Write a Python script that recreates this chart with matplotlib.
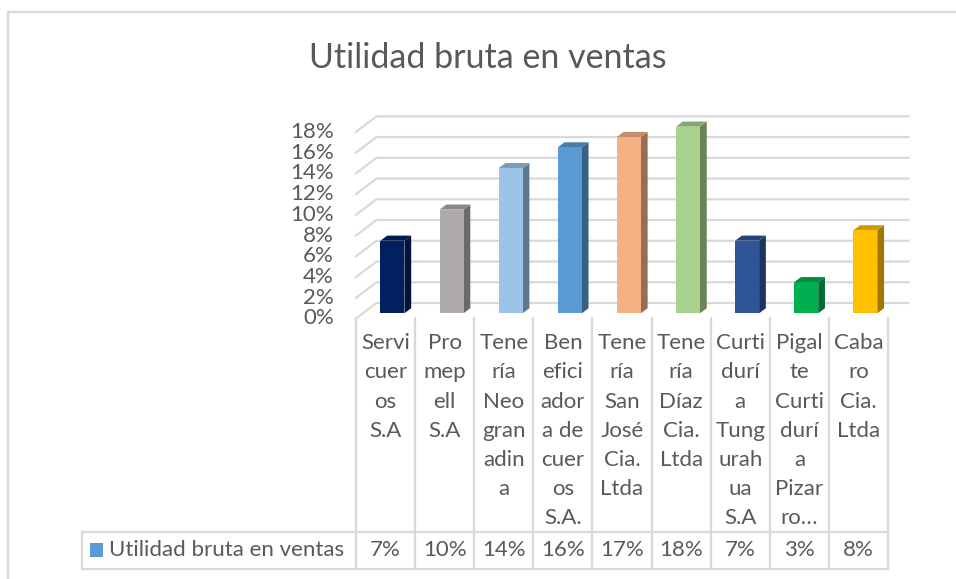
import numpy as np
import matplotlib.pyplot as plt
from matplotlib.patches import Polygon, Rectangle
from matplotlib.colors import to_rgb

plt.rcParams['font.family'] = ['Lato', 'DejaVu Sans']

# Data
title = "Utilidad bruta en ventas"
series_name = "Utilidad bruta en ventas"
labels = [
    "Servi\ncuer\nos\nS.A",
    "Pro\nmep\nell\nS.A",
    "Tene\nría\nNeo\ngran\nadin\na",
    "Ben\nefici\nador\na de\ncuer\nos\nS.A.",
    "Tene\nría\nSan\nJosé\nCia.\nLtda",
    "Tene\nría\nDíaz\nCia.\nLtda",
    "Curti\ndurí\na\nTung\nurah\nua\nS.A",
    "Pigal\nte\nCurti\ndurí\na\nPizar\nro…",
    "Caba\nro\nCia.\nLtda",
]
values = [7, 10, 14, 16, 17, 18, 7, 3, 8]
colors = ['#002060', '#AEAAAA', '#9DC3E6', '#5B9BD5', '#F4B183',
          '#A9D18E', '#2F5597', '#00B050', '#FFC000']
y_ticks = list(range(0, 20, 2))

TXT = '#595959'
GRID = '#D9D9D9'
FS = 16

W, H = 956, 579
fig = plt.figure(figsize=(W / 100, H / 100), dpi=100)

# pixel canvas for frame, title and data table
bg = fig.add_axes([0, 0, 1, 1])
bg.set_xlim(0, W)
bg.set_ylim(H, 0)
bg.axis('off')

# chart axes: categories on x, percent on y
X0, X1 = 356, 888
Y0 = 318.5
PX_PER_PCT = 10.37
YMAX = 20
n = len(values)
ax = fig.add_axes([X0 / W, (H - Y0) / H, (X1 - X0) / W, YMAX * PX_PER_PCT / H])
ax.set_xlim(-0.5, n - 0.5)
ax.set_ylim(0, YMAX)
ax.axis('off')

col_w = (X1 - X0) / n
DX = 20.5 / col_w          # depth of floor, category units
DY = 15.5 / PX_PER_PCT     # depth of floor, percent units

# walls / gridlines
for t in y_ticks:
    ax.plot([-0.5, -0.5 + DX, n - 0.5 + DX], [t, t + DY, t + DY],
            color=GRID, lw=1.6, clip_on=False, zorder=1)
    ax.text(-0.5 - 22 / col_w, t, f"{t}%", ha='right', va='center',
            fontsize=FS, color=TXT, clip_on=False)

# 3D columns
f0, f1 = 0.335, 0.665
bw = 0.406
for i, (v, c) in enumerate(zip(values, colors)):
    rgb = np.array(to_rgb(c))
    xl = i - bw / 2 + f0 * DX
    xr = xl + bw
    yb = f0 * DY
    yt = v + yb
    ddx, ddy = (f1 - f0) * DX, (f1 - f0) * DY
    side = Polygon([(xr, yb), (xr, yt), (xr + ddx, yt + ddy), (xr + ddx, yb + ddy)],
                   closed=True, fc=rgb * 0.62, ec='none', zorder=3, clip_on=False)
    top = Polygon([(xl, yt), (xr, yt), (xr + ddx, yt + ddy), (xl + ddx, yt + ddy)],
                  closed=True, fc=rgb * 0.8, ec='none', zorder=3, clip_on=False)
    ax.add_patch(side)
    ax.add_patch(top)
    ax.add_patch(Rectangle((xl, yb), bw, v, fc=c, ec='none', zorder=4, clip_on=False))

# outer frame
bg.plot([8.3, 8.3, W + 5], [H + 5, 11.7, 11.7], color=GRID, lw=1.6)

# title
bg.text(488, 58, title, ha='center', va='center', fontsize=24.5,
        color=TXT, fontweight='normal')

# data table
T_TOP, R_TOP, R_BOT, T_LEFT = 318, 531.7, 569.3, 82
for k in range(n + 1):
    x = X0 + k * col_w
    bg.plot([x, x], [T_TOP, R_BOT], color=GRID, lw=1.6)
bg.plot([T_LEFT, X1], [R_TOP, R_TOP], color=GRID, lw=1.6)
bg.plot([T_LEFT, X1], [R_BOT, R_BOT], color=GRID, lw=1.6)
bg.plot([T_LEFT, T_LEFT], [R_TOP, R_BOT], color=GRID, lw=1.6)

for i, (lab, v) in enumerate(zip(labels, values)):
    cx = X0 + (i + 0.5) * col_w
    for j, line in enumerate(lab.split('\n')):
        bg.text(cx, 343.3 + j * 29.2, line, ha='center', va='center',
                fontsize=FS, color=TXT)
    bg.text(cx, 550, f"{v}%", ha='center', va='center', fontsize=FS, color=TXT)

bg.add_patch(Rectangle((90, 542.7), 12.7, 14, fc='#5B9BD5', ec='none'))
bg.text(109.3, 550, series_name, ha='left', va='center', fontsize=FS, color=TXT)

fig.savefig('out.png', dpi=100)
